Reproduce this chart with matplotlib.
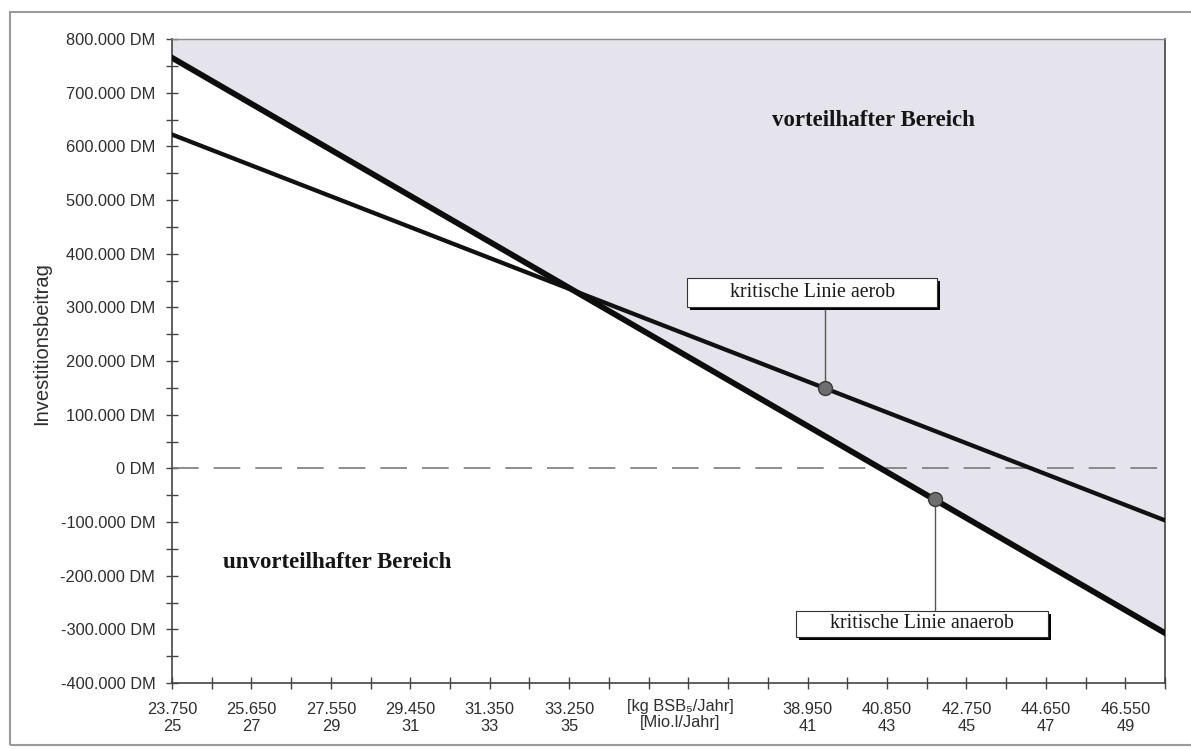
import matplotlib
matplotlib.use("Agg")
import matplotlib.pyplot as plt
import matplotlib.patheffects as pe
from matplotlib.patches import Rectangle
from matplotlib.ticker import FuncFormatter, MultipleLocator
from matplotlib.transforms import blended_transform_factory
import numpy as np

# Abwassermenge (Mio. l/Jahr) an den Enden der Achse
durchsatz = [25, 50]
# kritische Linien: Investitionsbeitrag in DM
krit_aerob = [622000, -97000]
krit_anaerob = [765000, -307000]

# markierte Punkte auf den Linien
punkt_aerob = (41.45, 150000)
punkt_anaerob = (44.2, -58000)

# Achsenbeschriftung unten (zweizeilig)
x_pos = [25, 27, 29, 31, 33, 35, 41, 43, 45, 47, 49]
x_kg = ['23.750', '25.650', '27.550', '29.450', '31.350', '33.250',
        '38.950', '40.850', '42.750', '44.650', '46.550']
x_mio = ['25', '27', '29', '31', '33', '35', '41', '43', '45', '47', '49']

sans = ['Liberation Sans', 'DejaVu Sans']
serif = ['Liberation Serif', 'DejaVu Serif']
tick_col = '#2e2e2e'
shade = '#e5e4ec'

fig = plt.figure(figsize=(11.91, 7.49), dpi=100)
W, H = 1191, 749
ax = fig.add_axes([172 / W, 1 - 683 / H, (1165 - 172) / W, (683 - 39) / H])

# Rahmen um das ganze Diagramm
fig.patches.append(Rectangle((10 / W, 1 - 745 / H), 1.2, (745 - 12) / H,
                             transform=fig.transFigure, fill=False,
                             edgecolor='#9a9a9a', lw=1.5))

# vorteilhafter Bereich oberhalb der anaeroben Linie
ax.fill_between(durchsatz, krit_anaerob, 800000, color=shade, lw=0, zorder=1)

ax.axhline(0, color='#7a7a7a', lw=1.2, dashes=(16, 9), zorder=2)

ax.plot(durchsatz, krit_aerob, color='#111111', lw=3.1, zorder=3)
ax.plot(durchsatz, krit_anaerob, color='#0d0d0d', lw=4.2, zorder=3)

# Beschriftungskästen mit Schatten
shadow = [pe.SimplePatchShadow(offset=(2.2, -2.4), shadow_rgbFace='k', alpha=1), pe.Normal()]

def kasten(x0, x1, y0, y1, text):
    r = Rectangle((x0, y0), x1 - x0, y1 - y0, facecolor='white', edgecolor='#333333',
                  lw=0.8, zorder=5, path_effects=shadow)
    ax.add_patch(r)
    ax.text((x0 + x1) / 2, (y0 + y1) / 2, text, ha='center', va='center',
            family=serif, fontsize=14.3, color='#1a1a1a', zorder=6)

kasten(37.97, 44.26, 301000, 355000, 'kritische Linie aerob')
kasten(40.71, 47.05, -314000, -266000, 'kritische Linie anaerob')

# Hinweislinien zu den Punkten
ax.plot([punkt_aerob[0]] * 2, [punkt_aerob[1], 301000], color='#555555', lw=1, zorder=4)
ax.plot([punkt_anaerob[0]] * 2, [punkt_anaerob[1], -266000], color='#555555', lw=1, zorder=4)
ax.plot(*punkt_aerob, 'o', ms=10, mfc='#6e6e6e', mec='#3a3a3a', mew=1, zorder=5)
ax.plot(*punkt_anaerob, 'o', ms=10, mfc='#6e6e6e', mec='#3a3a3a', mew=1, zorder=5)

ax.text(40.1, 649000, 'vorteilhafter Bereich', family=serif, fontsize=16.5,
        fontweight='bold', va='center', color='#151515', zorder=6)
ax.text(26.28, -176000, 'unvorteilhafter Bereich', family=serif, fontsize=16.5,
        fontweight='bold', va='center', color='#151515', zorder=6)

ax.set_xlim(25, 50)
ax.set_ylim(-400000, 800000)

# y-Achse in DM mit Tausenderpunkt
def dm(v, pos):
    return '{:,.0f} DM'.format(v).replace(',', '.')

ax.yaxis.set_major_locator(MultipleLocator(100000))
ax.yaxis.set_minor_locator(MultipleLocator(50000))
ax.yaxis.set_major_formatter(FuncFormatter(dm))

ticks = np.arange(25, 51)
labels = []
for t in ticks:
    if t in x_pos:
        i = x_pos.index(t)
        labels.append(x_kg[i] + '\n' + x_mio[i])
    else:
        labels.append('')
ax.set_xticks(ticks)
ax.set_xticklabels(labels)

ax.tick_params(axis='both', which='both', direction='inout', length=8, width=1,
               color='#444444', labelcolor=tick_col, labelsize=11.8)
ax.tick_params(axis='x', pad=10)
ax.tick_params(axis='y', pad=8)
for lab in ax.get_xticklabels() + ax.get_yticklabels():
    lab.set_family(sans)
    lab.set_linespacing(1.1)

trans = blended_transform_factory(ax.transData, ax.transAxes)
ax.text(37.8, -0.025, '[kg BSB\u2085/Jahr]\n[Mio.l/Jahr]', transform=trans,
        ha='center', va='top', family=sans, fontsize=11.8, color=tick_col,
        linespacing=1.1)

fig.text(42 / W, 1 - 344 / H, 'Investitionsbeitrag', rotation=90, ha='center',
         va='center', family=sans, fontsize=14.5, color=tick_col)

for side in ['left', 'bottom', 'right']:
    ax.spines[side].set_color('#444444')
    ax.spines[side].set_linewidth(1.2)
ax.spines['top'].set_color('#8a8a8a')
ax.spines['top'].set_linewidth(1)

fig.savefig('out.png', dpi=100)
